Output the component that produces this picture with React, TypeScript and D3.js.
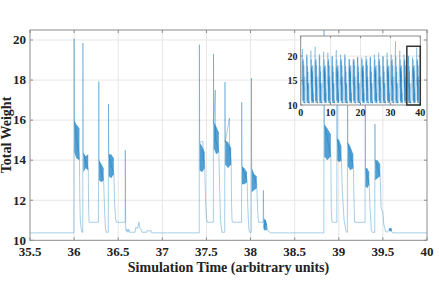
import React from 'react';
import * as d3 from 'd3';

const W = 439;
const H = 287;

// ---- tick values ----
const mainXTicks = [35.5, 36, 36.5, 37, 37.5, 38, 38.5, 39, 39.5, 40];
const mainYTicks = [10, 12, 14, 16, 18, 20];
const insetXTicks = [0, 10, 20, 30, 40];
const insetYTicks = [10, 15, 20];

// ---- data ----
const baselineLevel = 10.37;
const mainCycleStarts = [36.0, 37.42, 38.833];

// main trace (time, weight)
const mainTrace: [number, number][] = [
  [35.5, 10.37], [35.998, 10.37],
  // cycle 1
  [36.0, 20.07], [36.003, 15.9], [36.03, 15.0], [36.06, 14.2], [36.065, 12.0], [36.07, 11.0], [36.08, 10.6], [36.09, 10.4], [36.098, 10.4],
  [36.1, 19.85], [36.103, 14.4], [36.13, 13.9], [36.16, 13.6], [36.165, 11.5], [36.17, 10.9], [36.275, 10.9],
  [36.28, 17.93], [36.283, 14.0], [36.31, 13.4], [36.335, 13.0], [36.345, 11.5], [36.355, 10.6], [36.365, 10.4], [36.387, 10.4],
  [36.39, 16.8], [36.393, 14.3], [36.42, 13.7], [36.45, 13.4], [36.46, 11.8], [36.47, 11.1], [36.48, 10.9], [36.578, 10.9],
  [36.58, 14.5], [36.585, 10.6], [36.59, 10.45], [36.6, 10.55], [36.61, 10.4], [36.62, 10.55], [36.63, 10.4], [36.69, 10.4],
  [36.7, 10.65], [36.72, 10.6], [36.735, 10.9], [36.745, 10.6], [36.76, 10.55], [36.77, 10.4], [36.82, 10.4], [36.83, 10.5],
  [36.85, 10.45], [36.87, 10.5], [36.88, 10.37], [37.418, 10.37],
  // cycle 2
  [37.42, 19.77], [37.423, 14.9], [37.46, 14.93], [37.463, 14.2], [37.48, 13.8], [37.49, 12.0], [37.5, 11.1], [37.51, 10.9], [37.578, 10.9],
  [37.58, 19.3], [37.583, 15.8], [37.6, 17.5], [37.603, 15.0], [37.64, 14.5], [37.65, 12.5], [37.66, 11.0], [37.675, 10.4], [37.707, 10.4],
  [37.71, 17.9], [37.713, 14.9], [37.76, 16.1], [37.763, 14.5], [37.78, 14.0], [37.785, 11.8], [37.79, 11.0], [37.8, 10.9], [37.898, 10.9],
  [37.9, 16.9], [37.903, 13.7], [37.96, 13.0], [37.97, 11.5], [37.98, 10.6], [37.99, 10.4], [38.008, 10.4],
  [38.01, 18.1], [38.013, 13.6], [38.07, 12.8], [38.08, 11.5], [38.09, 10.9], [38.143, 10.9],
  [38.145, 12.5], [38.15, 10.6], [38.17, 11.0], [38.19, 10.6], [38.2, 10.45], [38.22, 10.4], [38.23, 10.37], [38.831, 10.37],
  // cycle 3
  [38.833, 21.7], [38.836, 15.8], [38.91, 14.2], [38.915, 11.5], [38.92, 11.0], [38.93, 10.9], [38.978, 10.9],
  [38.98, 19.0], [38.983, 15.0], [39.03, 14.0], [39.04, 12.5], [39.06, 11.0], [39.08, 10.5], [39.09, 10.4], [39.097, 10.4],
  [39.1, 19.4], [39.103, 14.8], [39.165, 13.7], [39.175, 11.5], [39.18, 10.9], [39.298, 10.9],
  [39.3, 18.1], [39.303, 13.6], [39.345, 12.8], [39.355, 11.5], [39.37, 10.5], [39.38, 10.4], [39.408, 10.4],
  [39.41, 15.8], [39.413, 14.0], [39.47, 13.2], [39.48, 11.6], [39.5, 11.4], [39.51, 10.8], [39.53, 10.45], [39.55, 10.4],
  [39.57, 10.55], [39.585, 10.6], [39.6, 10.45], [39.61, 10.37], [40, 10.37],
];

// dense (rapidly oscillating) regions: (time, low, high)
const mainBands: [number, number, number][][] = [
  [[36.003, 14.4, 16.0], [36.025, 14.1, 15.8], [36.06, 14.0, 15.6]],
  [[36.105, 13.4, 14.4], [36.13, 13.6, 14.2], [36.16, 13.5, 14.3]],
  [[36.283, 13.0, 14.0], [36.31, 12.9, 13.8], [36.335, 13.0, 13.6]],
  [[36.393, 13.2, 14.3], [36.42, 13.1, 14.3], [36.45, 13.3, 14.1]],
  [[37.423, 13.5, 14.9], [37.45, 13.4, 14.7], [37.48, 13.6, 14.4]],
  [[37.583, 14.6, 15.9], [37.61, 14.3, 15.7], [37.64, 14.4, 15.4]],
  [[37.713, 13.8, 15.0], [37.745, 13.6, 14.9], [37.78, 13.8, 14.6]],
  [[37.903, 12.8, 13.7], [37.93, 12.8, 13.6], [37.96, 12.9, 13.4]],
  [[38.013, 12.4, 13.6], [38.04, 12.5, 13.3], [38.07, 12.6, 13.2]],
  [[38.15, 10.5, 11.1], [38.17, 10.5, 11.0], [38.185, 10.5, 10.8]],
  [[38.836, 14.2, 15.8], [38.87, 14.0, 15.6], [38.91, 14.2, 15.3]],
  [[38.983, 14.0, 15.1], [39.005, 13.9, 15.0], [39.03, 14.0, 14.7]],
  [[39.103, 13.7, 14.9], [39.13, 13.5, 14.7], [39.165, 13.6, 14.3]],
  [[39.303, 12.7, 13.6], [39.325, 12.6, 13.6], [39.345, 12.8, 13.4]],
  [[39.413, 13.0, 14.0], [39.44, 13.1, 14.0], [39.47, 13.2, 13.8]],
  [[39.57, 10.45, 10.6], [39.6, 10.45, 10.6]],
];

// inset: whole run, one burst per cycle
const insetCycleStarts = [
  0.6, 2.02, 3.43, 4.85, 6.26, 7.68, 9.09, 10.5, 11.92, 13.34, 14.75, 16.17, 17.58, 19.0,
  20.41, 21.83, 23.24, 24.66, 26.07, 27.49, 28.9, 30.32, 31.73, 33.15, 34.56, 36.0, 37.42, 38.833,
];
const insetPeaks = [
  21.4, 20.4, 21.1, 21.9, 20.4, 20.9, 20.7, 20.0, 21.2, 20.3, 20.4, 19.4, 19.4, 19.7,
  19.7, 20.0, 19.7, 20.3, 20.7, 20.0, 20.7, 20.3, 23.0, 21.1, 20.3, 20.07, 19.77, 21.7,
];
const zoomBoxX = [35.5, 40];
const zoomBoxY = [10, 22];

const FONT = '"Liberation Serif", "Times New Roman", Times, "DejaVu Serif", serif';
const BLUE = '#0072BD';

const textStyle = (size: number): React.CSSProperties => ({
  fontFamily: FONT,
  fontWeight: 700,
  fontSize: size + 'px',
});

export default function App() {
  const M = { l: 30, r: 427, t: 30, b: 240.3 };
  const x = d3.scaleLinear().domain([35.5, 40]).range([M.l, M.r]);
  const y = d3.scaleLinear().domain([10, 20.5]).range([M.b, M.t]);
  const line = d3.line<[number, number]>().x((d) => x(d[0])).y((d) => y(d[1]));
  const area = d3
    .area<[number, number, number]>()
    .x((d) => x(d[0]))
    .y0((d) => y(d[1]))
    .y1((d) => y(d[2]));

  const I = { l: 300.7, r: 420.3, t: 36, b: 105 };
  const xi = d3.scaleLinear().domain([0, 40]).range([I.l, I.r]);
  const yi = d3.scaleLinear().domain([10, 24.1]).range([I.b, I.t]);
  const lineI = d3.line<[number, number]>().x((d) => xi(d[0])).y((d) => yi(d[1]));
  const areaI = d3
    .area<[number, number, number]>()
    .x((d) => xi(d[0]))
    .y0((d) => yi(d[1]))
    .y1((d) => yi(d[2]));

  // build inset bursts from the three observed cycles
  const insetTrace: [number, number][] = [[0, baselineLevel]];
  const insetBands: [number, number, number][][] = [];
  insetCycleStarts.forEach((s, k) => {
    const ti = (((k - 25) % 3) + 3) % 3;
    const tc = mainCycleStarts[ti];
    const pts = mainTrace.filter((p) => p[0] >= tc - 0.001 && p[0] <= tc + 0.85);
    pts.forEach((p, j) => {
      insetTrace.push([p[0] - tc + s, j === 0 ? insetPeaks[k] : p[1]]);
    });
    insetTrace.push([s + 0.86, baselineLevel]);
    mainBands
      .filter((b) => b[0][0] >= tc && b[0][0] <= tc + 0.85)
      .forEach((b) => insetBands.push(b.map((q) => [q[0] - tc + s, q[1], q[2]] as [number, number, number])));
  });
  insetTrace.push([40, baselineLevel]);

  const gridColor = '#e6e6e6';
  const axisColor = '#8c8c8c';

  return (
    <svg width={W} height={H} style={{ position: 'absolute', left: 0, top: 0, background: '#fff' }}>
      <defs>
        <clipPath id="mainClip">
          <rect x={M.l} y={M.t} width={M.r - M.l} height={M.b - M.t} />
        </clipPath>
        <clipPath id="insetClip">
          <rect x={I.l} y={I.t} width={I.r - I.l} height={I.b - I.t} />
        </clipPath>
      </defs>
      <rect x={0} y={0} width={W} height={H} fill="#fff" />

      {/* main grid */}
      {mainXTicks.slice(1, -1).map((t) => (
        <line key={'gx' + t} x1={x(t)} x2={x(t)} y1={M.t} y2={M.b} stroke={gridColor} strokeWidth={1} />
      ))}
      {mainYTicks.slice(1).map((t) => (
        <line key={'gy' + t} x1={M.l} x2={M.r} y1={y(t)} y2={y(t)} stroke={gridColor} strokeWidth={1} />
      ))}

      {/* main data */}
      <g clipPath="url(#mainClip)">
        {mainBands.map((b, i) => (
          <path key={'b' + i} d={area(b) || ''} fill={BLUE} fillOpacity={0.68} />
        ))}
        <path d={line(mainTrace) || ''} fill="none" stroke={BLUE} strokeWidth={0.7} strokeOpacity={0.5} />
      </g>

      {/* main frame and ticks */}
      <rect x={M.l} y={M.t} width={M.r - M.l} height={M.b - M.t} fill="none" stroke={axisColor} strokeWidth={1} />
      {mainXTicks.map((t) => (
        <g key={'tx' + t}>
          <line x1={x(t)} x2={x(t)} y1={M.b} y2={M.b - 3} stroke={axisColor} />
          <line x1={x(t)} x2={x(t)} y1={M.t} y2={M.t + 3} stroke={axisColor} />
          <text x={x(t)} y={256} textAnchor="middle" style={textStyle(13)} fill="#222">
            {String(t)}
          </text>
        </g>
      ))}
      {mainYTicks.map((t) => (
        <g key={'ty' + t}>
          <line x1={M.l} x2={M.l + 3} y1={y(t)} y2={y(t)} stroke={axisColor} />
          <line x1={M.r} x2={M.r - 3} y1={y(t)} y2={y(t)} stroke={axisColor} />
          <text x={26} y={y(t) + 4.3} textAnchor="end" style={textStyle(13)} fill="#222">
            {String(t)}
          </text>
        </g>
      ))}
      <text x={228.5} y={271.5} textAnchor="middle" style={textStyle(14)} fill="#222">
        Simulation Time (arbitrary units)
      </text>
      <text transform={`translate(10.5, 135) rotate(-90)`} textAnchor="middle" style={textStyle(14)} fill="#222">
        Total Weight
      </text>

      {/* inset */}
      <rect x={I.l} y={I.t} width={I.r - I.l} height={I.b - I.t} fill="#fff" />
      {insetXTicks.slice(1, -1).map((t) => (
        <line key={'igx' + t} x1={xi(t)} x2={xi(t)} y1={I.t} y2={I.b} stroke={gridColor} strokeWidth={1} />
      ))}
      {insetYTicks.slice(1).map((t) => (
        <line key={'igy' + t} x1={I.l} x2={I.r} y1={yi(t)} y2={yi(t)} stroke={gridColor} strokeWidth={1} />
      ))}
      <g clipPath="url(#insetClip)">
        {insetBands.map((b, i) => (
          <path key={'ib' + i} d={areaI(b) || ''} fill={BLUE} fillOpacity={0.85} />
        ))}
        <path d={lineI(insetTrace) || ''} fill="none" stroke={BLUE} strokeWidth={0.5} strokeOpacity={0.55} />
      </g>
      <rect x={I.l} y={I.t} width={I.r - I.l} height={I.b - I.t} fill="none" stroke={axisColor} strokeWidth={1} />
      {insetXTicks.map((t) => (
        <g key={'itx' + t}>
          <line x1={xi(t)} x2={xi(t)} y1={I.b} y2={I.b - 2} stroke={axisColor} />
          <line x1={xi(t)} x2={xi(t)} y1={I.t} y2={I.t + 2} stroke={axisColor} />
          <text x={xi(t)} y={116} textAnchor="middle" style={textStyle(10)} fill="#222">
            {String(t)}
          </text>
        </g>
      ))}
      {insetYTicks.map((t) => (
        <g key={'ity' + t}>
          <line x1={I.l} x2={I.l + 2} y1={yi(t)} y2={yi(t)} stroke={axisColor} />
          <line x1={I.r} x2={I.r - 2} y1={yi(t)} y2={yi(t)} stroke={axisColor} />
          <text x={297.5} y={yi(t) + 3.5} textAnchor="end" style={textStyle(10)} fill="#222">
            {String(t)}
          </text>
        </g>
      ))}
      <rect
        x={xi(zoomBoxX[0])}
        y={yi(zoomBoxY[1])}
        width={xi(zoomBoxX[1]) - xi(zoomBoxX[0])}
        height={yi(zoomBoxY[0]) - yi(zoomBoxY[1])}
        fill="none"
        stroke="#333"
        strokeWidth={1.5}
      />
    </svg>
  );
}
